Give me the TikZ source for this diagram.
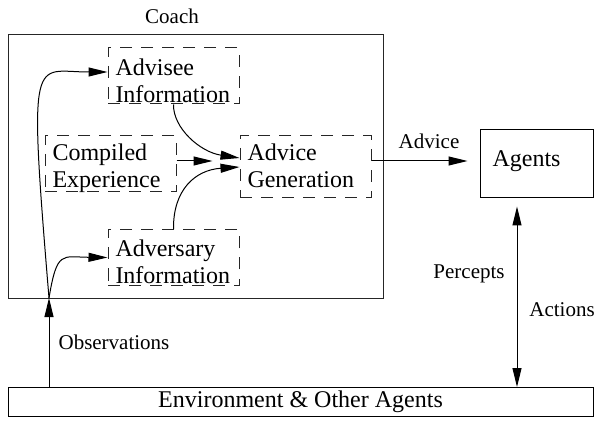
\documentclass[tikz,border=0pt]{standalone}
\usepackage{fontspec}
\setmainfont{Liberation Serif}
\usetikzlibrary{arrows.meta}

\begin{document}
\begin{tikzpicture}[
  x=0.5pt, y=-0.5pt,
  line width=0.5pt,
  font=\fontsize{10.5}{12}\selectfont,
  >={Triangle[length=9.5pt, width=4.5pt]},
  cluster/.style={draw, black!85, minimum width=187.5pt, minimum height=131.5pt, inner sep=0pt},
  module/.style={draw, black!85, dash pattern=on 6pt off 4.5pt, minimum width=65.5pt, minimum height=28pt, inner sep=0pt},
  modtext/.style={text width=58pt, align=left, inner sep=0pt, font=\fontsize{12}{13.5}\selectfont},
  plain/.style={draw, inner sep=0pt, font=\fontsize{12}{14}\selectfont},
  link/.style={->},
  twoway/.style={<->},
]
\useasboundingbox (0,0) rectangle (597,421);

\node[cluster] (coach) at (195.5,166.5) {};
\node (coach-lbl) at (172,16) {Coach};

\node[module] (advisee) at (173.5,76) {};
\node[modtext] (advisee-txt) at (173.5,81) {Advisee\\Information};
\node[module] (compiled) at (110.5,164) {};
\node[modtext] (compiled-txt) at (110.5,168) {Compiled\\Experience};
\node[module, minimum height=31pt] (advgen) at (305.5,167) {};
\node[modtext] (advgen-txt) at (305.5,166) {Advice\\Generation};
\node[module] (adversary) at (173.5,257.5) {};
\node[modtext] (adversary-txt) at (173.5,262) {Adversary\\Information};

\node[plain, minimum width=56.5pt, minimum height=34pt] (agents) at (536.5,164) {};
\node[font=\fontsize{12}{14}\selectfont] (agents-txt) at (526.5,161.5) {Agents};
\node[plain, minimum width=292.5pt, minimum height=14.5pt] (env) at (300.5,402) {Environment \& Other Agents};

\coordinate (junc) at (49,298);
\draw[link] (env.north -| junc) -- (junc);
\node (obs-lbl) at (114,342) {Observations};
\draw[link] (junc) .. controls (28,45) and (33,72) .. ([yshift=2pt]advisee.west);
\draw[link] (junc) .. controls (57,250) and (62,257) .. (adversary.west);

\draw[link] (advisee.south) .. controls (173,128) and (200,152) .. ([yshift=4.5pt]advgen.west);
\draw[link, shorten >=13.5pt] ([yshift=1.5pt]compiled.east) -- ([yshift=1.5pt]compiled.east -| advgen.west);
\draw[link] (adversary.north) .. controls (173,190) and (195,170) .. (advgen.west);

\draw[link, shorten >=6pt] ([yshift=3pt]advgen.east) -- ([yshift=3pt]advgen.east -| agents.west);
\node (advice-lbl) at (429,141) {Advice};

\draw[twoway, shorten <=4pt] ([xshift=-9.75pt]agents.south) -- ([xshift=-9.75pt]agents.south |- env.north);
\node (percepts-lbl) at (469,274) {Percepts};
\node (actions-lbl) at (562,310) {Actions};
\end{tikzpicture}
\end{document}
